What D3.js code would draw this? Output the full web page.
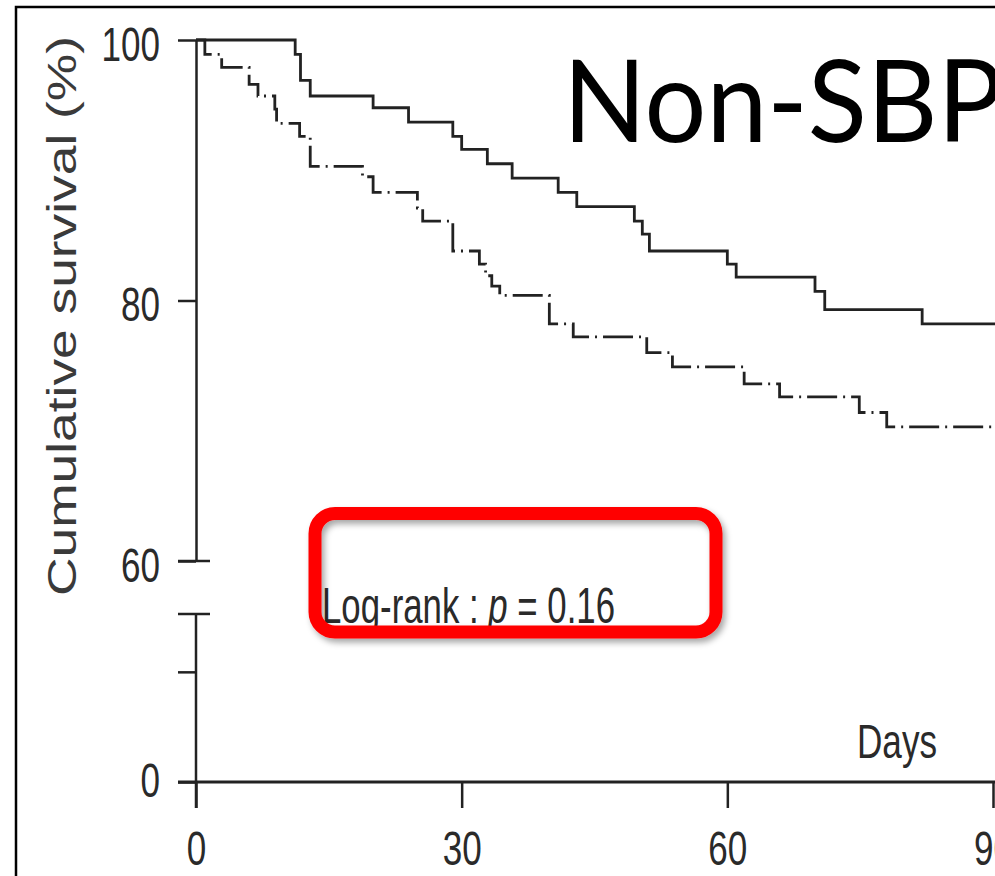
<!DOCTYPE html>
<html>
<head>
<meta charset="utf-8">
<script src="https://cdn.jsdelivr.net/npm/d3@7"></script>
<style>
  body { margin: 0; background: #fff; }
  svg { display: block; }
</style>
</head>
<body>
<div id="chart"></div>
<script>
// survival curves (days, cumulative survival %)
const solidDays = [0, 11.2, 11.8, 12.9, 20.0, 24.0, 29.0, 30.0, 32.9, 35.7, 40.9, 43.0, 49.5, 50.4, 51.2, 60.0, 61.0, 69.9, 71.0, 82.0, 91];
const solidSurv = [100, 98.9, 96.9, 95.7, 94.8, 93.7, 92.6, 91.6, 90.5, 89.4, 88.3, 87.2, 86.1, 85.1, 83.8, 82.8, 81.8, 80.7, 79.3, 78.2, 78.2];

const dashDays = [0, 1.0, 2.9, 6.0, 7.0, 8.9, 9.1, 11.7, 12.9, 18.8, 20.0, 25.0, 25.6, 29.0, 32.0, 32.7, 33.4, 34.3, 39.9, 42.6, 50.9, 53.8, 61.9, 65.9, 74.9, 78.0, 91];
const dashSurv = [100, 98.9, 97.9, 96.6, 95.7, 94.7, 93.6, 92.6, 90.3, 89.5, 88.3, 87.1, 86.1, 83.8, 82.8, 81.9, 81.1, 80.4, 78.2, 77.2, 76.0, 74.9, 73.6, 72.6, 71.4, 70.3, 70.3];

const xTicks = [0, 30, 60, 90];
const yTicksUpper = [60, 80, 100];
const yTicksLower = [0, 20];

const title = "Non-SBP";
const yTitle = "Cumulative survival (%)";
const xTitle = "Days";
const pValue = "0.16";

const W = 995, H = 876;
const axisColor = "#222";
const labelFont = "'Liberation Sans', Arial, sans-serif";

const svg = d3.select("#chart").append("svg")
  .attr("width", W)
  .attr("height", H);

const defs = svg.append("defs");
const shadow = defs.append("filter").attr("id", "shadow")
  .attr("x", "-10%").attr("y", "-10%").attr("width", "130%").attr("height", "140%");
shadow.append("feDropShadow")
  .attr("dx", 3).attr("dy", 4).attr("stdDeviation", 3)
  .attr("flood-color", "#000").attr("flood-opacity", 0.35);

// frame
svg.append("rect")
  .attr("x", 16).attr("y", 7)
  .attr("width", 1200).attr("height", 1000)
  .attr("fill", "none").attr("stroke", "#000").attr("stroke-width", 2.5);

// scales: broken y axis, upper part 60-100, lower part 0-30
const x = d3.scaleLinear().domain([0, 90]).range([196, 993]);
const yUp = d3.scaleLinear().domain([60, 100]).range([561, 40]);
const yLow = d3.scaleLinear().domain([0, 30.5]).range([782, 614]);

const x0 = x(0);

// y axis, upper segment
const gUp = svg.append("g")
  .attr("transform", `translate(${x0},0)`)
  .call(d3.axisLeft(yUp).tickValues(yTicksUpper).tickSize(18).tickSizeOuter(0).tickPadding(18));

// y axis, lower segment
const gLow = svg.append("g")
  .attr("transform", `translate(${x0},0)`)
  .call(d3.axisLeft(yLow).tickValues(yTicksLower).tickSize(18).tickSizeOuter(0).tickPadding(18)
    .tickFormat(d => d === 0 ? "0" : ""));
gLow.select(".domain").remove();

// x axis
const gX = svg.append("g")
  .attr("transform", `translate(0,${yLow(0)})`)
  .call(d3.axisBottom(x).tickValues(xTicks).tickSize(26).tickSizeOuter(0).tickPadding(23));
gX.select(".domain").remove();

svg.append("line")
  .attr("x1", x0 - 18).attr("x2", x(92))
  .attr("y1", yLow(0)).attr("y2", yLow(0))
  .attr("stroke", axisColor).attr("stroke-width", 3);

// lower vertical, running below the x axis like the original
svg.append("line")
  .attr("x1", x0).attr("x2", x0)
  .attr("y1", yLow(30.5)).attr("y2", yLow(0) + 26)
  .attr("stroke", axisColor).attr("stroke-width", 2.5);

// break caps
[yUp(60), yLow(30.5)].forEach(yy => {
  svg.append("line")
    .attr("x1", x0 - 18).attr("x2", x0 + 14)
    .attr("y1", yy).attr("y2", yy)
    .attr("stroke", axisColor).attr("stroke-width", 2.5);
});

[gUp, gLow, gX].forEach(g => {
  g.selectAll(".domain").attr("stroke", axisColor).attr("stroke-width", 2.5);
  g.selectAll(".tick line").attr("stroke", axisColor).attr("stroke-width", 2.5);
  g.selectAll(".tick text")
    .attr("fill", "#2a2a2a")
    .style("font-family", labelFont)
    .style("font-size", "48px")
    .attr("lengthAdjust", "spacingAndGlyphs")
    .attr("textLength", function () { return this.textContent.length * 19.5 || null; });
});
gUp.selectAll(".tick text").attr("dy", "0.42em");
gLow.selectAll(".tick text").attr("dy", "0.30em");

// curves
const line = d3.line()
  .x(d => x(d[0]))
  .y(d => yUp(d[1]))
  .curve(d3.curveStepAfter);

svg.append("path")
  .datum(d3.zip(solidDays, solidSurv))
  .attr("d", line)
  .attr("fill", "none")
  .attr("stroke", "#222")
  .attr("stroke-width", 2.8);

svg.append("path")
  .datum(d3.zip(dashDays, dashSurv))
  .attr("d", line)
  .attr("fill", "none")
  .attr("stroke", "#222")
  .attr("stroke-width", 2.8)
  .attr("stroke-dasharray", "30,6,2,6");

// axis titles
svg.append("text")
  .attr("transform", "translate(76,316) rotate(-90)")
  .attr("text-anchor", "middle")
  .attr("fill", "#3a3a3a")
  .style("font-family", labelFont)
  .style("font-size", "40px")
  .attr("lengthAdjust", "spacingAndGlyphs")
  .attr("textLength", 560)
  .text(yTitle);

svg.append("text")
  .attr("x", 857).attr("y", 758)
  .attr("fill", "#2a2a2a")
  .style("font-family", labelFont)
  .style("font-size", "49px")
  .attr("lengthAdjust", "spacingAndGlyphs")
  .attr("textLength", 80)
  .text(xTitle);

// log-rank annotation
const ann = svg.append("text")
  .attr("x", 322).attr("y", 623)
  .attr("fill", "#2a2a2a")
  .style("font-family", labelFont)
  .style("font-size", "50px")
  .attr("lengthAdjust", "spacingAndGlyphs")
  .attr("textLength", 293);
ann.append("tspan").text("Log-rank : ");
ann.append("tspan").style("font-style", "italic").text("p");
ann.append("tspan").text(" = " + pValue);

svg.append("rect")
  .attr("x", 315).attr("y", 513.5)
  .attr("width", 401).attr("height", 118.5)
  .attr("rx", 20).attr("ry", 20)
  .attr("fill", "none")
  .attr("stroke", "#ff0000")
  .attr("stroke-width", 13)
  .attr("filter", "url(#shadow)");

// title
svg.append("text")
  .attr("x", 563).attr("y", 142)
  .attr("fill", "#000")
  .style("font-family", "Lato, 'Open Sans', sans-serif")
  .style("font-size", "114px")
  .attr("lengthAdjust", "spacingAndGlyphs")
  .attr("textLength", 440)
  .text(title);
</script>
</body>
</html>
